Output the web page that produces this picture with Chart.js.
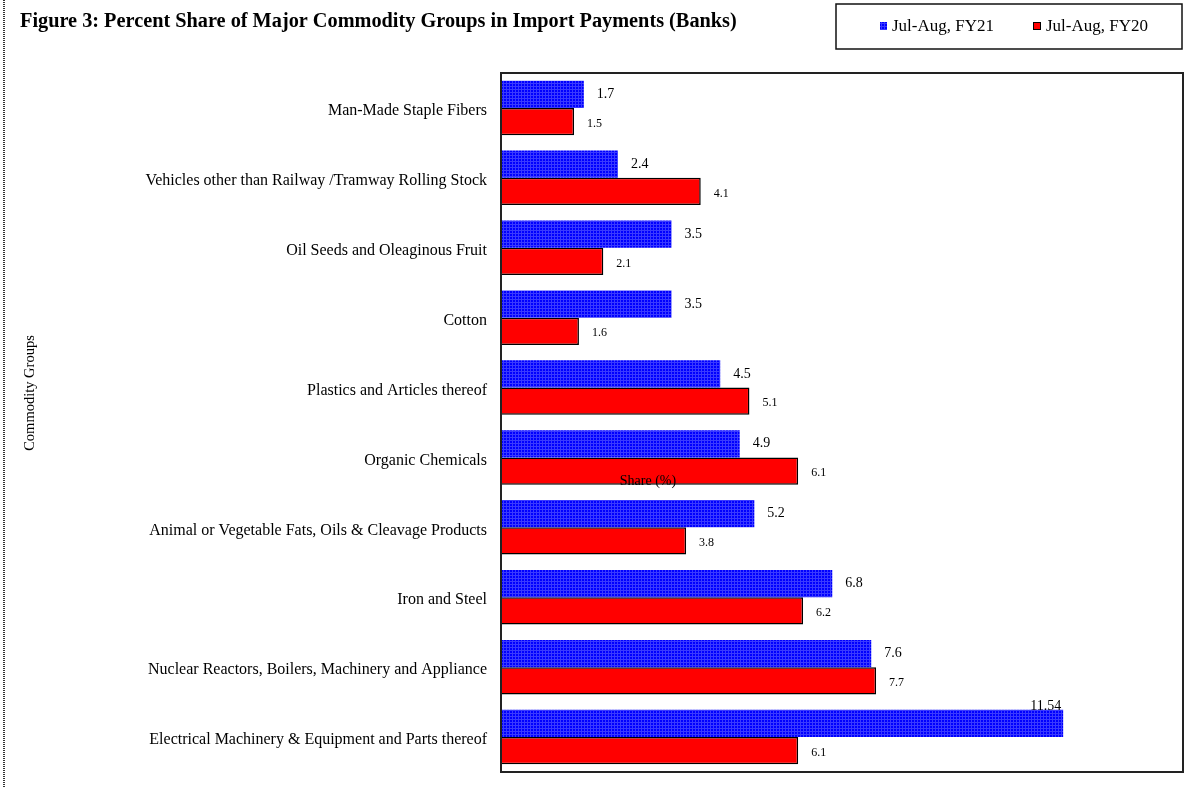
<!DOCTYPE html>
<html><head><meta charset="utf-8">
<script src="https://cdn.jsdelivr.net/npm/chart.js@4.4.1/dist/chart.umd.min.js"></script>
<style>html,body{margin:0;padding:0;background:#fff}#wrap{width:1186px;height:787px;position:relative}</style>
</head><body><div id="wrap"><canvas id="c" width="1186" height="787"></canvas></div>
<script>
const categories = [
  "Man-Made Staple Fibers",
  "Vehicles other than Railway /Tramway Rolling Stock",
  "Oil Seeds and Oleaginous Fruit",
  "Cotton",
  "Plastics and Articles thereof",
  "Organic Chemicals",
  "Animal or Vegetable Fats, Oils & Cleavage Products",
  "Iron and Steel",
  "Nuclear Reactors, Boilers, Machinery and Appliance",
  "Electrical Machinery & Equipment and Parts thereof"
];
const fy21 = [1.7, 2.4, 3.5, 3.5, 4.5, 4.9, 5.2, 6.8, 7.6, 11.54];
const fy20 = [1.5, 4.1, 2.1, 1.6, 5.1, 6.1, 3.8, 6.2, 7.7, 6.1];
const fy21Labels = ["1.7","2.4","3.5","3.5","4.5","4.9","5.2","6.8","7.6","11.54"];
const fy20Labels = ["1.5","4.1","2.1","1.6","5.1","6.1","3.8","6.2","7.7","6.1"];
const seriesNames = ["Jul-Aug, FY21", "Jul-Aug, FY20"];
const titleText = "Figure 3: Percent Share of Major Commodity Groups in Import Payments (Banks)";
const yTitle = "Commodity Groups";
const xTitle = "Share (%)";

const SERIF = '"Liberation Serif", "DejaVu Serif", serif';

function bluePattern(){
  const p = document.createElement('canvas'); p.width = 3; p.height = 3;
  const g = p.getContext('2d');
  g.fillStyle = '#0000ff'; g.fillRect(0,0,3,3);
  g.fillStyle = '#3a3aff'; g.fillRect(2,0,1,3); g.fillRect(0,2,3,1);
  return g.createPattern(p, 'repeat');
}
const ctx0 = document.getElementById('c').getContext('2d');
const bp = bluePattern();

const decor = {
  id: 'decor',
  afterDraw(chart){
    const ctx = chart.ctx, a = chart.chartArea;
    ctx.save();
    // dotted left frame line
    ctx.strokeStyle = '#333'; ctx.lineWidth = 2; ctx.setLineDash([1,1]);
    ctx.beginPath(); ctx.moveTo(4,0); ctx.lineTo(4,787); ctx.stroke();
    ctx.setLineDash([]);
    // plot border
    ctx.strokeStyle = '#222'; ctx.lineWidth = 2;
    ctx.strokeRect(a.left, a.top, a.right - a.left, a.bottom - a.top);
    // title
    ctx.fillStyle = '#000'; ctx.font = 'bold 20.3px ' + SERIF;
    ctx.textAlign = 'left'; ctx.textBaseline = 'middle';
    ctx.fillText(titleText, 20, 22);
    // legend box
    ctx.lineWidth = 1.5; ctx.strokeStyle = '#111';
    ctx.strokeRect(836, 4, 346, 45);
    ctx.font = '17px ' + SERIF;
    ctx.fillStyle = bp; ctx.fillRect(880, 22, 7, 8);
    ctx.fillStyle = '#000'; ctx.fillText(seriesNames[0], 892, 27);
    ctx.fillStyle = '#f00'; ctx.fillRect(1033, 22, 8, 8);
    ctx.strokeStyle = '#000'; ctx.lineWidth = 1; ctx.strokeRect(1033.5, 22.5, 7, 7);
    ctx.fillStyle = '#000'; ctx.fillText(seriesNames[1], 1046, 27);
    // y title
    ctx.save();
    ctx.translate(30, 393); ctx.rotate(-Math.PI/2);
    ctx.font = '14.5px ' + SERIF; ctx.textAlign = 'center'; ctx.textBaseline = 'middle';
    ctx.fillText(yTitle, 0, 0);
    ctx.restore();
    // value labels
    const m0 = chart.getDatasetMeta(0), m1 = chart.getDatasetMeta(1);
    ctx.textBaseline = 'middle'; ctx.fillStyle = '#000';
    m0.data.forEach((el, i) => {
      ctx.font = '14px ' + SERIF;
      if (fy21[i] > 10) {
        ctx.textAlign = 'right'; ctx.textBaseline = 'bottom';
        ctx.fillText(fy21Labels[i], el.x - 2, el.y - el.height/2 + 4);
        ctx.textBaseline = 'middle';
      } else {
        ctx.textAlign = 'left';
        ctx.fillText(fy21Labels[i], el.x + 13, el.y);
      }
    });
    m1.data.forEach((el, i) => {
      ctx.font = '12px ' + SERIF; ctx.textAlign = 'left';
      ctx.fillText(fy20Labels[i], el.x + 13, el.y + 2);
    });
    // x title (placed mid-chart as in source)
    ctx.font = '14px ' + SERIF; ctx.textAlign = 'center';
    ctx.fillText(xTitle, 648, 481);
    ctx.restore();
  }
};

new Chart(ctx0, {
  type: 'bar',
  data: {
    labels: categories,
    datasets: [
      { label: seriesNames[0], data: fy21, backgroundColor: bp, borderWidth: 0 },
      { label: seriesNames[1], data: fy20, backgroundColor: '#ff0000', borderColor: '#000', borderWidth: 1.5 }
    ]
  },
  options: {
    indexAxis: 'y',
    responsive: false,
    animation: false,
    events: [],
    layout: { padding: { left: 0, top: 73, right: 3, bottom: 15 } },
    datasets: { bar: { categoryPercentage: 0.78, barPercentage: 1 } },
    plugins: { legend: { display: false }, title: { display: false }, tooltip: { enabled: false } },
    scales: {
      x: { display: false, min: 0, max: 14 },
      y: {
        grid: { display: false, drawTicks: false },
        border: { display: false },
        ticks: { color: '#000', font: { family: SERIF, size: 16 }, padding: 14, autoSkip: false, labelOffset: 3 },
        afterFit(s){ s.width = 501; s.paddingTop = 0; s.paddingBottom = 0; }
      }
    }
  },
  plugins: [decor]
});
</script>
</body></html>
